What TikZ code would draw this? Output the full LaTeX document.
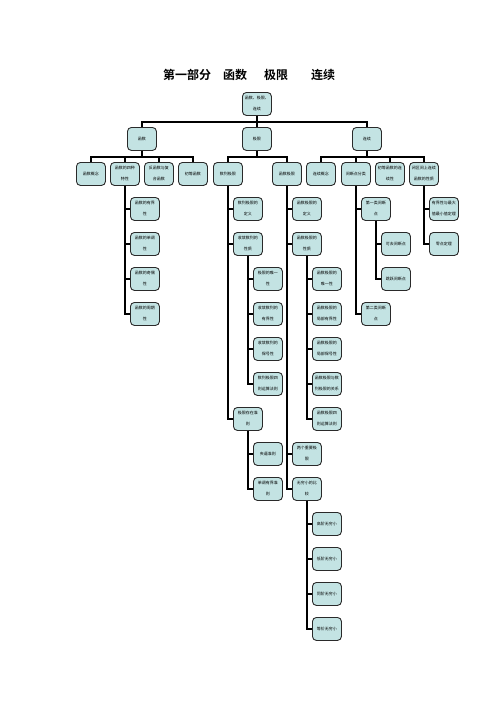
\documentclass[tikz,border=0pt]{standalone}
\usepackage{fontspec}
\usepackage{tikz}
\newfontfamily\cjk{Noto Sans CJK SC}
\newfontfamily\cjkbold{Noto Sans CJK SC Bold}
\definecolor{boxfill}{HTML}{C3E3E3}
\definecolor{boxline}{HTML}{2A2A2A}
\tikzstyle{box}=[draw=boxline,line width=.9pt,rounded corners=4pt,fill=boxfill,
  minimum width=29pt,minimum height=23pt,inner sep=0pt,anchor=north west,
  align=center,font=\cjk\fontsize{4}{11}\selectfont]
\tikzstyle{link}=[line width=1.7pt]
\tikzstyle{title}=[font=\cjkbold\fontsize{12}{14}\selectfont,inner sep=0pt]

\begin{document}
\begin{tikzpicture}[x=1pt,y=-1pt]
  \useasboundingbox (0,0) rectangle (496,702);
  \node[title,anchor=west] (ttl) at (163,75)
    {第一部分\hspace{12pt}函数\hspace{17pt}极限\hspace{23pt}连续};

  % top of the tree
  \node[box] (root) at (242,92) {函数、极限、\\连续};
  \node[box] (hs) at (127,127) {函数};
  \node[box] (jx) at (242,127) {极限};
  \node[box] (lx) at (352,127) {连续};
  \foreach \c in {hs,jx,lx}
    \draw[link] (root.south) -- ++(0,6) -| (\c.north);

  % functions
  \node[box] (hsgn) at (76,162) {函数概念};
  \node[box] (hstx) at (110,162) {函数的四种\\特性};
  \node[box] (fhs) at (144,162) {反函数与复\\合函数};
  \node[box] (cdhs) at (178,162) {初等函数};
  \foreach \c in {hsgn,hstx,fhs,cdhs}
    \draw[link] (hs.south) -- ++(0,6) -| (\c.north);
  \node[box] (yjx) at (130,197) {函数的有界\\性};
  \node[box] (ddx) at (130,232) {函数的单调\\性};
  \node[box] (joux) at (130,267) {函数的奇偶\\性};
  \node[box] (zqx) at (130,302) {函数的周期\\性};
  \foreach \c in {yjx,ddx,joux,zqx}
    \draw[link] (hstx.south) |- (\c.west);

  % limits
  \node[box] (sljx) at (213,162) {数列极限};
  \node[box] (hsjx) at (272,162) {函数极限};
  \foreach \c in {sljx,hsjx}
    \draw[link] (jx.south) -- ++(0,6) -| (\c.north);

  \node[box] (sldy) at (233,197) {数列极限的\\定义};
  \node[box] (slxz) at (233,232) {收敛数列的\\性质};
  \node[box] (czzz) at (233,407) {极限存在准\\则};
  \foreach \c in {sldy,slxz,czzz}
    \draw[link] (sljx.south) |- (\c.west);
  \node[box] (wyx) at (253,267) {极限的唯一\\性};
  \node[box] (slyj) at (253,302) {收敛数列的\\有界性};
  \node[box] (slbh) at (253,337) {收敛数列的\\保号性};
  \node[box] (slys) at (253,372) {数列极限四\\则运算法则};
  \foreach \c in {wyx,slyj,slbh,slys}
    \draw[link] (slxz.south) |- (\c.west);
  \node[box] (jbzz) at (253,442) {夹逼准则};
  \node[box] (ddyj) at (253,477) {单调有界准\\则};
  \foreach \c in {jbzz,ddyj}
    \draw[link] (czzz.south) |- (\c.west);

  \node[box] (hsdy) at (292,197) {函数极限的\\定义};
  \node[box] (hsxz) at (292,232) {函数极限的\\性质};
  \node[box] (zyjx) at (292,442) {两个重要极\\限};
  \node[box] (wqx) at (292,477) {无穷小的比\\较};
  \foreach \c in {hsdy,hsxz,zyjx,wqx}
    \draw[link] (hsjx.south) |- (\c.west);
  \node[box] (hswy) at (312,267) {函数极限的\\唯一性};
  \node[box] (hsyj) at (312,302) {函数极限的\\局部有界性};
  \node[box] (hsbh) at (312,337) {函数极限的\\局部保号性};
  \node[box] (hssl) at (312,372) {函数极限与数\\列极限的关系};
  \node[box] (hsys) at (312,407) {函数极限四\\则运算法则};
  \foreach \c in {hswy,hsyj,hsbh,hssl,hsys}
    \draw[link] (hsxz.south) |- (\c.west);
  \foreach \t/\n [count=\i] in {高阶无穷小/gj,低阶无穷小/dj,同阶无穷小/tj,等价无穷小/djia}
    \node[box] (\n) at (312,477+35*\i) {\t};
  \foreach \c in {gj,dj,tj,djia}
    \draw[link] (wqx.south) |- (\c.west);

  % continuity
  \node[box] (lxgn) at (306,162) {连续概念};
  \node[box] (jdd) at (341,162) {间断点分类};
  \node[box] (cdlx) at (375,162) {初等函数的连\\续性};
  \node[box] (bqj) at (409,162) {闭区间上连续\\函数的性质};
  \foreach \c in {lxgn,jdd,cdlx,bqj}
    \draw[link] (lx.south) -- ++(0,6) -| (\c.north);
  \node[box] (dyl) at (361,197) {第一类间断\\点};
  \node[box] (del) at (361,302) {第二类间断\\点};
  \foreach \c in {dyl,del}
    \draw[link] (jdd.south) |- (\c.west);
  \node[box] (kq) at (381,232) {可去间断点};
  \node[box] (ty) at (381,267) {跳跃间断点};
  \foreach \c in {kq,ty}
    \draw[link] (dyl.south) |- (\c.west);
  \node[box] (zzdl) at (429,197) {有界性与最大\\值最小值定理};
  \node[box] (lddl) at (429,232) {零点定理};
  \foreach \c in {zzdl,lddl}
    \draw[link] (bqj.south) |- (\c.west);
\end{tikzpicture}
\end{document}
